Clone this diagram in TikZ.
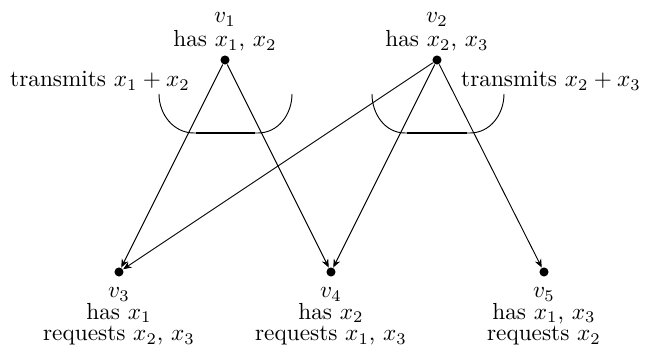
\documentclass[tikz,border=0pt]{standalone}
\usetikzlibrary{arrows.meta,positioning}

\begin{document}
\begin{tikzpicture}[
    x=0.43pt, y=-0.43pt,
    vertex/.style={circle, fill=black, inner sep=0pt, minimum size=3.9pt},
    infotext/.style={align=center, inner sep=0pt, font=\fontsize{10}{9.2}\selectfont},
    arrow/.style={-{Stealth[length=3.6pt,width=3pt]}, line width=0.4pt},
    cupline/.style={line width=0.4pt},
    codeline/.style={line width=0.9pt}
]
\useasboundingbox (0,0) rectangle (653,346);

% Senders
\node[vertex] (v1) at (225,60) {};
\node[vertex] (v2) at (437,60) {};

% Receivers
\node[vertex] (v3) at (119,272) {};
\node[vertex] (v4) at (331,272) {};
\node[vertex] (v5) at (544,272) {};

% Labels
\node[infotext, above=1.5pt of v1] (l1) {$v_1$\\[1pt]has $x_1$, $x_2$};
\node[infotext, above=1.5pt of v2] (l2) {$v_2$\\[1pt]has $x_2$, $x_3$};
\node[infotext, below=4.5pt of v3] (l3) {$v_3$\\has $x_1$\\requests $x_2$, $x_3$};
\node[infotext, below=4.5pt of v4] (l4) {$v_4$\\has $x_2$\\requests $x_1$, $x_3$};
\node[infotext, below=4.5pt of v5] (l5) {$v_5$\\has $x_1$, $x_3$\\requests $x_2$};

% Transmissions
\node[infotext, anchor=base] (t1) at (100,87) {transmits $x_1+x_2$};
\node[infotext, anchor=base] (t2) at (551,87) {transmits $x_2+x_3$};

% Cups
\draw[cupline] (159,94) to[out=-90,in=180] (194,133) -- (258,133) to[out=0,in=-90] (292,94);
\draw[codeline] (196,133) -- (255,133);
\draw[cupline] (372,94) to[out=-90,in=180] (405,133) -- (470,133) to[out=0,in=-90] (504,94);
\draw[codeline] (407,133) -- (467,133);

% Edges
\foreach \src/\dst in {v1/v3, v1/v4, v2/v3, v2/v4, v2/v5}
    \draw[arrow] (\src) -- (\dst);

\end{tikzpicture}
\end{document}
